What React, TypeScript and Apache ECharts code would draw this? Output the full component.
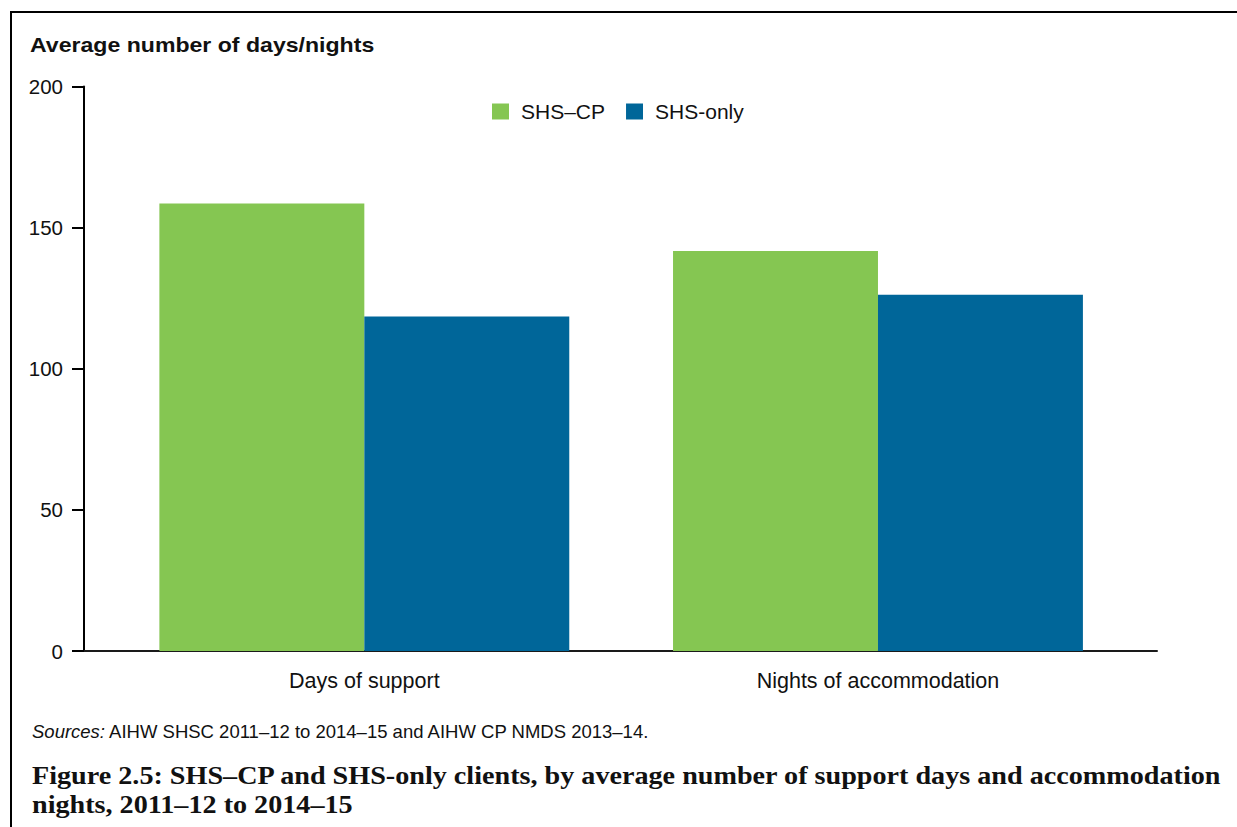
import React, { useEffect, useRef } from "react";
import * as echarts from "echarts";

const categories = ["Days of support", "Nights of accommodation"];
const seriesNames = ["SHS–CP", "SHS-only"];
const shsCp = [158.6, 141.7];
const shsOnly = [118.5, 126.2];
const yTicks = { min: 0, max: 200, interval: 50 };

const GREEN = "#85c652";
const BLUE = "#006699";
const SANS = "Liberation Sans, Arial, Helvetica, sans-serif";
const SERIF = "Liberation Serif, Times New Roman, serif";

export default function App() {
  const ref = useRef<HTMLDivElement>(null);
  useEffect(() => {
    if (!ref.current) return;
    const chart = echarts.init(ref.current, undefined, { renderer: "svg" });
    const top = 86.6;
    const bottom = 827 - 651;
    chart.setOption({
      animation: false,
      backgroundColor: "#ffffff",
      textStyle: { fontFamily: SANS },
      legend: {
        left: 492,
        top: 101,
        padding: 0,
        itemWidth: 17,
        itemHeight: 16,
        itemGap: 21,
        icon: "rect",
        selectedMode: false,
        data: seriesNames,
        textStyle: { fontSize: 21, color: "#111", fontFamily: SANS, padding: [0, 0, 0, 7] },
      },
      grid: [
        { left: 84, right: 1237 - 1157, top, bottom, containLabel: false },
        { left: 107.5, right: 1237 - 1134.8, top, bottom, containLabel: false },
      ],
      xAxis: [
        {
          type: "category",
          gridIndex: 0,
          data: categories,
          axisLine: { show: true, lineStyle: { color: "#1a1a1a", width: 2 } },
          axisTick: { show: false },
          axisLabel: { show: false },
          splitLine: { show: false },
        },
        {
          type: "category",
          gridIndex: 1,
          data: categories,
          axisLine: { show: false },
          axisTick: { show: false },
          axisLabel: { show: true, fontSize: 21.5, color: "#111", margin: 19, fontFamily: SANS },
          splitLine: { show: false },
        },
      ],
      yAxis: [
        {
          type: "value",
          gridIndex: 0,
          min: yTicks.min,
          max: yTicks.max,
          interval: yTicks.interval,
          axisLine: { show: true, lineStyle: { color: "#000", width: 2 } },
          axisTick: { show: true, inside: false, length: 12, lineStyle: { color: "#000", width: 2 } },
          axisLabel: { fontSize: 20.5, color: "#111", margin: 21, fontFamily: SANS },
          splitLine: { show: false },
        },
        {
          type: "value",
          gridIndex: 1,
          min: yTicks.min,
          max: yTicks.max,
          interval: yTicks.interval,
          show: false,
          splitLine: { show: false },
        },
      ],
      series: [
        {
          name: seriesNames[0],
          type: "bar",
          xAxisIndex: 1,
          yAxisIndex: 1,
          data: shsCp,
          itemStyle: { color: GREEN },
          barGap: "0%",
          barCategoryGap: "20.2%",
        },
        {
          name: seriesNames[1],
          type: "bar",
          xAxisIndex: 1,
          yAxisIndex: 1,
          data: shsOnly,
          itemStyle: { color: BLUE },
          barGap: "0%",
          barCategoryGap: "20.2%",
        },
      ],
      graphic: [
        { type: "line", shape: { x1: 11, y1: 12, x2: 1237, y2: 12 }, style: { stroke: "#000", lineWidth: 2 } },
        { type: "line", shape: { x1: 11, y1: 11, x2: 11, y2: 827 }, style: { stroke: "#000", lineWidth: 2 } },
        {
          type: "text",
          left: 30,
          top: 35,
          style: { text: "Average number of days/nights", font: `bold 20px ${SANS}`, fill: "#111" },
          scaleX: 1.155,
        },
        {
          type: "text",
          left: 32,
          top: 722,
          style: {
            text: "{i|Sources:} AIHW SHSC 2011–12 to 2014–15 and AIHW CP NMDS 2013–14.",
            font: `18.5px ${SANS}`,
            fill: "#111",
            rich: { i: { fontStyle: "italic", fontSize: 18.5, fontFamily: SANS } },
          },
        },
        {
          type: "text",
          left: 32,
          top: 762,
          scaleX: 1.083,
          style: {
            text: "Figure 2.5: SHS–CP and SHS-only clients, by average number of support days and accommodation",
            font: `bold 26px ${SERIF}`,
            fill: "#111",
          },
        },
        {
          type: "text",
          left: 32,
          top: 791,
          scaleX: 1.083,
          style: {
            text: "nights, 2011–12 to 2014–15",
            font: `bold 26px ${SERIF}`,
            fill: "#111",
          },
        },
      ],
    });
    return () => chart.dispose();
  }, []);
  return (
    <div
      ref={ref}
      style={{ position: "fixed", left: 0, top: 0, width: 1237, height: 827, background: "#fff" }}
    />
  );
}
